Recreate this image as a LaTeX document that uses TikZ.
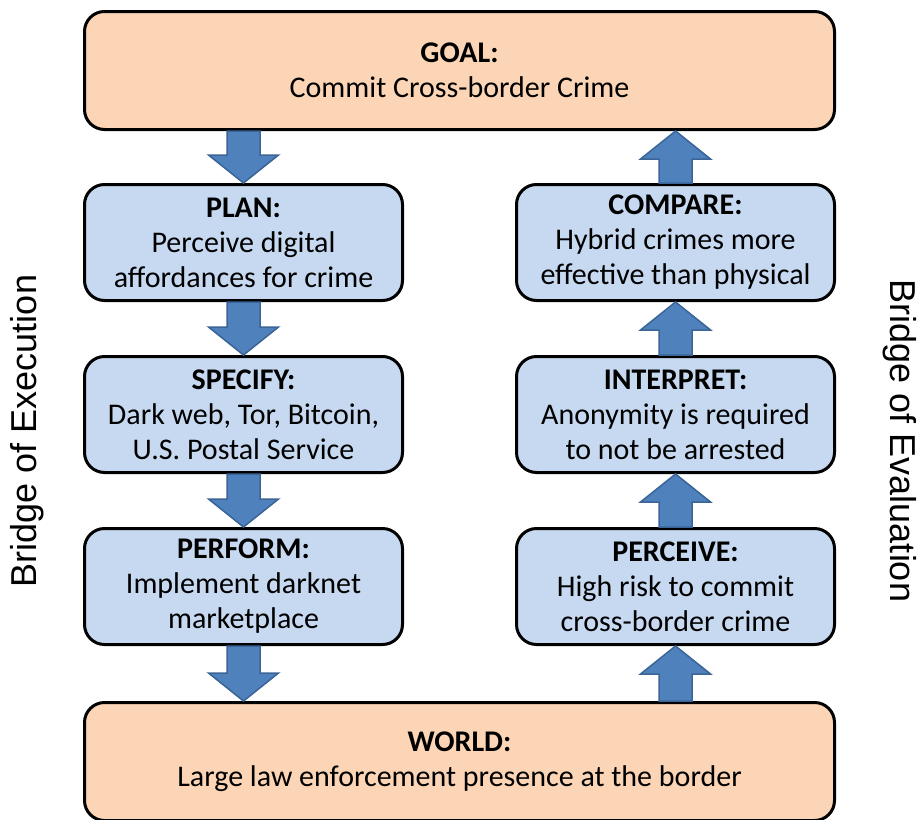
\documentclass[tikz,border=0pt]{standalone}
\usepackage{fontspec}
\setmainfont{Carlito}
\newfontfamily\bridgefont{Liberation Sans}
\usetikzlibrary{positioning,calc}

\definecolor{stageblue}{HTML}{C6D9F1}
\definecolor{outerorange}{HTML}{FBD5B5}
\definecolor{arrowblue}{HTML}{4F81BD}
\definecolor{arrowedge}{HTML}{3A6596}

% thick block arrow from #1 to #2
\newcommand{\blockarrow}[2]{%
  \coordinate (hb) at ($(#2)!28pt!(#1)$);
  \draw[fatarrow] ($(#1)!16.5pt!90:(#2)$) -- ($(hb)!16.5pt!-90:(#1)$)
    -- ($(hb)!35pt!-90:(#1)$) -- (#2) -- ($(hb)!35pt!90:(#1)$)
    -- ($(hb)!16.5pt!90:(#1)$) -- ($(#1)!16.5pt!-90:(#2)$) -- cycle;}

\begin{document}
\begin{tikzpicture}[x=1pt,y=-1pt,node distance=53pt]
	\tikzstyle{stage}
	  =[draw, line width=3pt, rounded corners=20pt, fill=stageblue,
	  minimum width=318pt, minimum height=116pt, align=center,
	  font=\fontsize{30}{35}\selectfont]
	\tikzstyle{outer}
	  =[stage, fill=outerorange, minimum width=750pt, minimum height=118pt]
	\tikzstyle{fatarrow}
	  =[fill=arrowblue, draw=arrowedge, line width=1.5pt]
	\tikzstyle{bridge}
	  =[font=\bridgefont\fontsize{36}{40}\selectfont]

	\useasboundingbox (0,0) rectangle (920,819);

	\node[outer] (goal)
	  at (459.5,70.5) {\textbf{GOAL:}\\Commit Cross-border Crime};

	\node[stage] (plan)
	  [below=52pt of goal.south west, anchor=north west]
	  {\textbf{PLAN:}\\Perceive digital\\affordances for crime};
	\node[stage] (specify)
	  [below=of plan] {\textbf{SPECIFY:}\\Dark web, Tor, Bitcoin,\\U.S. Postal Service};
	\node[stage] (perform)
	  [below=of specify] {\textbf{PERFORM:}\\Implement darknet\\marketplace};

	\node[stage] (compare)
	  [below=52pt of goal.south east, anchor=north east]
	  {\textbf{COMPARE:}\\Hybrid crimes more\\effective than physical};
	\node[stage] (interpret)
	  [below=of compare] {\textbf{INTERPRET:}\\Anonymity is required\\to not be arrested};
	\node[stage] (perceive)
	  [below=of interpret] {\textbf{PERCEIVE:}\\High risk to commit\\cross-border crime};

	\node[outer] (world)
	  [below=55pt of perform.south west, anchor=north west]
	  {\textbf{WORLD:}\\Large law enforcement presence at the border};

	\node[bridge, rotate=90] (execution)
	  at (27,431) {Bridge of Execution};
	\node[bridge, rotate=-90] (evaluation)
	  at (900,441) {Bridge of Evaluation};

	\coordinate (goalleft) at (goal.south -| plan.north);
	\coordinate (worldleft) at (world.north -| perform.south);
	\coordinate (goalright) at (goal.south -| compare.north);
	\coordinate (worldright) at (world.north -| perceive.south);

	\blockarrow{goalleft}{plan.north}
	\blockarrow{plan.south}{specify.north}
	\blockarrow{specify.south}{perform.north}
	\blockarrow{perform.south}{worldleft}

	\blockarrow{worldright}{perceive.south}
	\blockarrow{perceive.north}{interpret.south}
	\blockarrow{interpret.north}{compare.south}
	\blockarrow{compare.north}{goalright}
\end{tikzpicture}
\end{document}
